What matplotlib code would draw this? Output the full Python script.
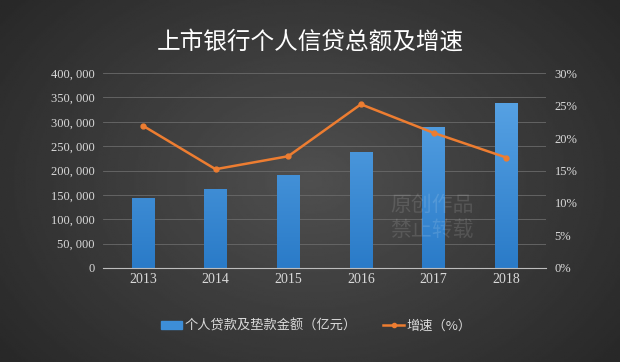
import numpy as np
import matplotlib
matplotlib.use("Agg")
import matplotlib.pyplot as plt
from matplotlib.lines import Line2D
from matplotlib.patches import Patch
from matplotlib.colors import LinearSegmentedColormap

plt.rcParams['font.family'] = ['Noto Sans CJK SC', 'DejaVu Sans']

# data
years = ["2013", "2014", "2015", "2016", "2017", "2018"]
loans = [143600, 162700, 191000, 238600, 289000, 339000]   # 亿元
growth = [21.9, 15.2, 17.2, 25.2, 20.8, 17.0]              # %
left_ticks = [0, 50000, 100000, 150000, 200000, 250000, 300000, 350000, 400000]
right_ticks = [0, 5, 10, 15, 20, 25, 30]

fig = plt.figure(figsize=(6.2, 3.62), dpi=100)

# dark radial background
bg = fig.add_axes([0, 0, 1, 1])
yy, xx = np.mgrid[-1:1:200j, -1:1:340j]
r = np.sqrt(xx**2 + (yy * 0.8)**2)
bg.imshow(0.31 - 0.12 * r, cmap='gray', vmin=0, vmax=1, aspect='auto',
          extent=[0, 1, 0, 1])
bg.axis('off')

ax = fig.add_axes([0.166, 0.26, 0.715, 0.538])
ax.patch.set_alpha(0)
x = np.arange(len(years))
bars = ax.bar(x, loans, width=0.31, color='#3d8ed8', zorder=2)

# vertical gradient inside bars
blue = LinearSegmentedColormap.from_list('b', ['#2a7bc8', '#5ea8e8'])
grad = np.linspace(0, 1, 100).reshape(-1, 1)
for b in bars:
    im = ax.imshow(grad, cmap=blue, origin='lower', aspect='auto', zorder=2.1,
                   extent=[b.get_x(), b.get_x() + b.get_width(), 0, 400000])
    im.set_clip_path(b)
ax.set_xlim(-0.55, len(years) - 0.45)
ax.set_ylim(0, 400000)

ax.set_yticks(left_ticks)
ax.set_yticklabels([f"{v:,}".replace(",", ", ") for v in left_ticks])
ax.set_xticks(x)
ax.set_xticklabels(years)
ax.grid(axis='y', color='#6a6a6a', linewidth=0.6, zorder=0)
for s in ['top', 'left', 'right']:
    ax.spines[s].set_visible(False)
ax.spines['bottom'].set_color('#bdbdbd')
ax.tick_params(length=0, colors='#d9d9d9', labelsize=9, pad=6)
ax.tick_params(axis='x', labelsize=10, pad=4)
for lab in ax.get_xticklabels() + ax.get_yticklabels():
    lab.set_family('Liberation Serif')

ax2 = ax.twinx()
ax2.plot(x, growth, color='#ed7d31', linewidth=1.8, marker='o',
         markersize=3.5, zorder=3)
ax2.set_ylim(0, 30)
ax2.set_yticks(right_ticks)
ax2.set_yticklabels([f"{v}%" for v in right_ticks])
for s in ax2.spines.values():
    s.set_visible(False)
ax2.tick_params(length=0, colors='#d9d9d9', labelsize=9, pad=6)
for lab in ax2.get_yticklabels():
    lab.set_family('Liberation Serif')

# watermark
fig.text(0.63, 0.40, "原创作品\n禁止转载", color='white', alpha=0.12,
         fontsize=15, ha='left', va='center', linespacing=1.2)

fig.text(0.5, 0.885, "上市银行个人信贷总额及增速", color='white',
         fontsize=17, ha='center', va='center')

handles = [Patch(color='#3d8ed8'),
           Line2D([0], [0], color='#ed7d31', marker='o', markersize=3, linewidth=1.8)]
fig.legend(handles, ["个人贷款及垫款金额（亿元）", "增速（%）"],
           loc='center', bbox_to_anchor=(0.51, 0.10), ncol=2, frameon=False,
           fontsize=9.5, labelcolor='#d9d9d9', handlelength=1.6,
           handleheight=0.5, columnspacing=2.0, handletextpad=0.2)

fig.savefig("out.png", dpi=100)
